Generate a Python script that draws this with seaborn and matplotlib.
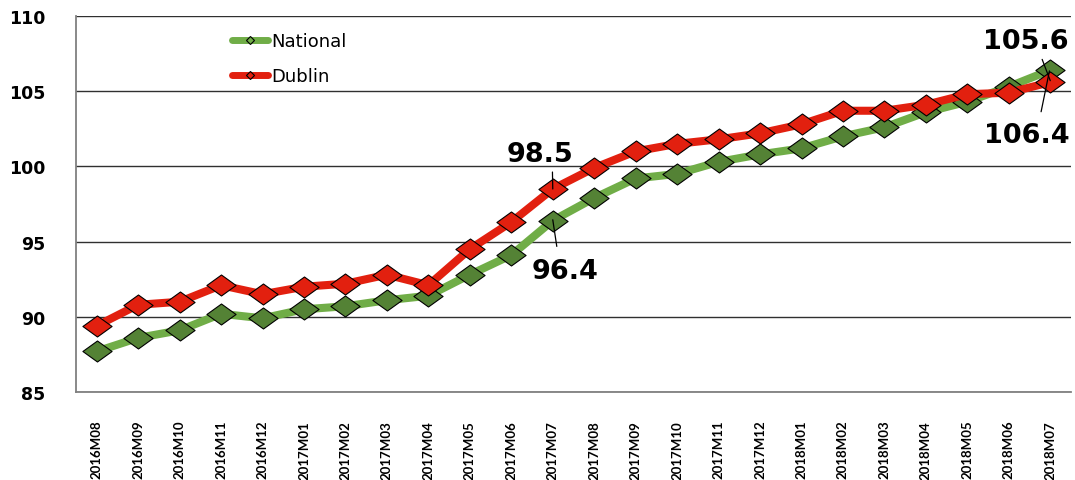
import matplotlib
matplotlib.use("Agg")
import matplotlib.pyplot as plt
from matplotlib.lines import Line2D
from matplotlib.path import Path
import numpy as np
import pandas as pd
import seaborn as sns

# --- datos ---
months = ["2016M08", "2016M09", "2016M10", "2016M11", "2016M12",
          "2017M01", "2017M02", "2017M03", "2017M04", "2017M05", "2017M06",
          "2017M07", "2017M08", "2017M09", "2017M10", "2017M11", "2017M12",
          "2018M01", "2018M02", "2018M03", "2018M04", "2018M05", "2018M06",
          "2018M07"]
national = [87.7, 88.6, 89.1, 90.2, 89.9, 90.5, 90.7, 91.1, 91.4, 92.8, 94.1,
            96.4, 97.9, 99.2, 99.5, 100.3, 100.8, 101.2, 102.0, 102.6, 103.6,
            104.3, 105.3, 106.4]
dublin = [89.4, 90.8, 91.0, 92.1, 91.5, 92.0, 92.2, 92.8, 92.1, 94.5, 96.3,
          98.5, 99.9, 101.0, 101.5, 101.8, 102.2, 102.8, 103.7, 103.7, 104.1,
          104.8, 104.9, 105.6]
y_ticks = [85, 90, 95, 100, 105, 110]

GREEN_LINE = "#70AD47"
GREEN_MARK = "#548235"
RED = "#E2200F"

df = pd.DataFrame({"pos": np.arange(len(months)), "month": months,
                   "National": national, "Dublin": dublin})

sns.set_style("white")
plt.rcParams["font.family"] = ["DejaVu Sans"]
plt.rcParams["text.color"] = "black"
plt.rcParams["xtick.color"] = "black"
plt.rcParams["ytick.color"] = "black"

# rombo achatado como en Excel
diamond = Path([(-1, 0), (0, 0.72), (1, 0), (0, -0.72), (-1, 0)], closed=True)

fig, ax = plt.subplots(figsize=(10.75, 4.81), dpi=100)
fig.subplots_adjust(left=76 / 1075, right=1071 / 1075, top=1 - 17 / 481, bottom=1 - 393 / 481)

sns.lineplot(data=df, x="pos", y="National", ax=ax, color=GREEN_LINE, lw=5.8,
             marker=diamond, markersize=21, markerfacecolor=GREEN_MARK,
             markeredgecolor="black", markeredgewidth=0.8)
sns.lineplot(data=df, x="pos", y="Dublin", ax=ax, color=RED, lw=5.8,
             marker=diamond, markersize=21, markerfacecolor=RED,
             markeredgecolor="black", markeredgewidth=0.8)

ax.set_xlim(-0.5, len(months) - 0.5)
ax.set_ylim(85, 110)
ax.set_yticks(y_ticks)
ax.set_yticklabels([str(v) for v in y_ticks], fontsize=12.5, fontweight="bold")
ax.set_xticks(df["pos"])
ax.set_xticklabels(months, rotation=90, fontsize=9.5, fontweight="bold", family="Lato")
ax.tick_params(axis="x", length=0, pad=20)
ax.tick_params(axis="y", length=0, pad=22)
ax.set_xlabel("")
ax.set_ylabel("")

ax.yaxis.grid(True, color="#303030", lw=1.0)
ax.xaxis.grid(False)
for side in ["top", "right"]:
    ax.spines[side].set_visible(False)
for side in ["left", "bottom"]:
    ax.spines[side].set_color("#808080")
    ax.spines[side].set_linewidth(1.3)

# etiquetas de valores
def etiqueta(texto, punto, pos_texto, relpos, shrink=2):
    ax.annotate(texto, xy=punto, xytext=pos_texto, fontsize=19.5, fontweight="bold",
                ha="center", va="center",
                arrowprops=dict(arrowstyle="-", color="black", lw=0.9, relpos=relpos,
                                shrinkA=shrink, shrinkB=0))

etiqueta(f"{dublin[11]:.1f}", (11, dublin[11]), (10.7, 100.8), (0.68, 0.0), 1)
etiqueta(f"{national[11]:.1f}", (11, national[11] + 0.05), (11.3, 93.05), (0.4, 1.0), 6)
etiqueta(f"{dublin[23]:.1f}", (23, dublin[23] + 0.1), (22.42, 108.37), (0.66, 0.0), 2)
etiqueta(f"{national[23]:.1f}", (22.98, national[23] - 0.05), (22.44, 102.1), (0.64, 1.0), 5)

# leyenda
handles = [
    Line2D([], [], color=GREEN_LINE, lw=5, marker="D", markersize=4.5,
           markerfacecolor=GREEN_LINE, markeredgecolor="black", markeredgewidth=0.8),
    Line2D([], [], color=RED, lw=5, marker="D", markersize=4.5,
           markerfacecolor=RED, markeredgecolor="black", markeredgewidth=0.8),
]
ax.legend(handles, ["National", "Dublin"], loc="upper left",
          bbox_to_anchor=((232 - 76) / 995, 1 - (33 - 17) / 376),
          frameon=False, fontsize=13, handlelength=2.0, handletextpad=0.15,
          labelspacing=0.95, borderaxespad=0, borderpad=0)

fig.savefig("out.png", dpi=100)
